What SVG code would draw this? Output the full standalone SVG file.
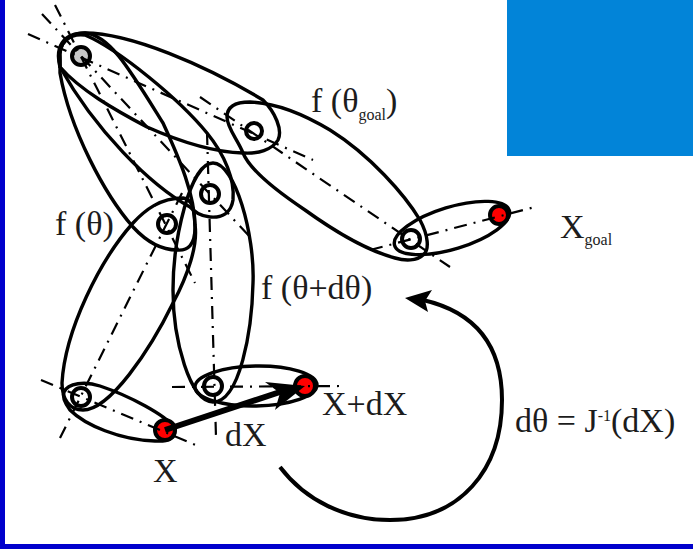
<svg xmlns="http://www.w3.org/2000/svg" width="693" height="549" viewBox="0 0 693 549">
<style>
.e{fill:none;stroke:#000;stroke-width:3.4}
.a{fill:none;stroke:#000;stroke-width:2.2;stroke-dasharray:13 7 2 7}
.j{fill:#fff;stroke:#000;stroke-width:4}
.g{fill:#c8c8c8;stroke:#000;stroke-width:4}
.r{fill:#f00;stroke:#000;stroke-width:4}
text{font-family:"Liberation Serif",serif;font-size:34px;fill:#1c1c1c}
.s{font-size:16px}
</style>
<rect width="693" height="549" fill="#fff"/>
<rect x="0" y="0" width="5" height="549" fill="#0000cc"/>
<rect x="0" y="544" width="693" height="5" fill="#0000cc"/>
<rect x="507" y="0" width="186" height="156" fill="#0284d8"/>
<g id="link-root-goal1"><path class="e" d="M60 67C55 48 62 33 85 33C130 33 205 65 263 100C275 112 283 130 278 140C272 150 258 154 243 153C205 152 165 135 147 127C115 110 80 90 60 67Z"/></g>
<g id="link-goal1-goal2"><path class="e" d="M227 117C227 105 238 102 250 102C280 103 310 118 330 130C370 155 405 195 420 220C428 235 430 250 423 255C417 261 405 261 395 258C365 250 330 228 305 210C275 190 250 170 243 153C238 140 227 128 227 117Z"/></g>
<g id="link-goal2-end"><ellipse class="e" cx="452" cy="228" rx="60" ry="21" transform="rotate(-17 452 228)"/></g>
<g id="link-root-dtheta"><path class="e" d="M60 60C58 42 70 33 85 35C120 50 180 100 207 133C225 155 235 180 233 200C231 213 222 218 210 217C200 216 195 212 190 207C150 185 95 130 60 67Z"/></g>
<g id="link-root-theta"><path class="e" d="M60 60C58 42 70 33 85 33C110 35 130 70 163 123C180 160 195 195 195 227C195 245 188 251 177 250C160 250 145 240 133 227C105 195 70 130 60 73Z"/></g>
<g id="link-theta-base"><path class="e" d="M183 198C160 198 145 210 133 223C100 260 65 330 62 383C62 400 70 410 83 410C110 410 150 350 173 303C188 275 198 245 195 225C194 208 192 199 183 198Z"/></g>
<g id="link-dtheta-base"><path class="e" d="M213 163C235 163 255 235 253 283C252 330 240 402 213 402C190 402 173 340 173 290C173 240 190 163 213 163Z"/></g>
<g id="link-base-x"><path class="e" d="M64 392C68 383 85 381 100 386C130 396 165 415 174 427C178 438 168 442 155 441C120 440 85 425 70 410C64 402 62 397 64 392Z"/></g>
<g id="link-base2-xdx"><ellipse class="e" cx="256" cy="386" rx="61" ry="20" transform="rotate(-1 256 386)"/></g>
<g id="joint-root"><circle class="g" cx="81" cy="56" r="9"/></g>
<g id="joint-goal1"><circle class="j" cx="254" cy="131" r="8"/></g>
<g id="joint-goal2"><circle class="j" cx="411" cy="239" r="9"/></g>
<g id="end-goal"><circle class="r" cx="499" cy="215" r="9"/></g>
<g id="joint-theta"><circle class="j" cx="167" cy="224" r="9"/></g>
<g id="joint-dtheta"><circle class="j" cx="210" cy="194" r="9"/></g>
<g id="joint-base"><circle class="j" cx="81" cy="397" r="9"/></g>
<g id="joint-base2"><circle class="j" cx="213" cy="386" r="9"/></g>
<g id="end-x"><circle class="r" cx="165" cy="430" r="10"/></g>
<g id="end-xdx"><circle class="r" cx="305" cy="386" r="10"/></g>
<g id="connectors">
<path class="a" d="M28 34L313 160"/>
<path class="a" d="M200 97L450 267"/>
<path class="a" d="M370 250L535 207"/>
<path class="a" d="M42 14L250 237"/>
<path class="a" d="M55 5L195 283"/>
<path class="a" d="M182 193L60 438"/>
<path class="a" d="M207 132L216 437"/>
<path class="a" d="M41 380L198 446"/>
<path class="a" d="M172 387L342 386"/>
<path d="M165 430L280 392" fill="none" stroke="#000" stroke-width="6"/>
<path d="M265 382L305 386L275 410L280 393Z" fill="#000"/>
<path d="M280 467C305 500 345 520 390 520C460 520 502 470 502 400C502 345 475 312 423 300" fill="none" stroke="#000" stroke-width="4"/>
<path d="M405 298L432 290L425 301L428 312Z" fill="#000"/>
</g>
<g id="labels">
<text x="55" y="235">f (θ)</text>
<text x="311" y="112">f (θ<tspan class="s" dy="8">goal</tspan><tspan dy="-8">)</tspan></text>
<text x="261" y="299">f (θ+dθ)</text>
<text x="153" y="482">X</text>
<text x="225" y="446">dX</text>
<text x="322" y="415">X+dX</text>
<text x="515" y="432">dθ = J<tspan class="s" dy="-11">-1</tspan><tspan dy="11">(dX)</tspan></text>
<text x="560" y="238">X<tspan class="s" dy="7">goal</tspan></text>
</g>
</svg>
